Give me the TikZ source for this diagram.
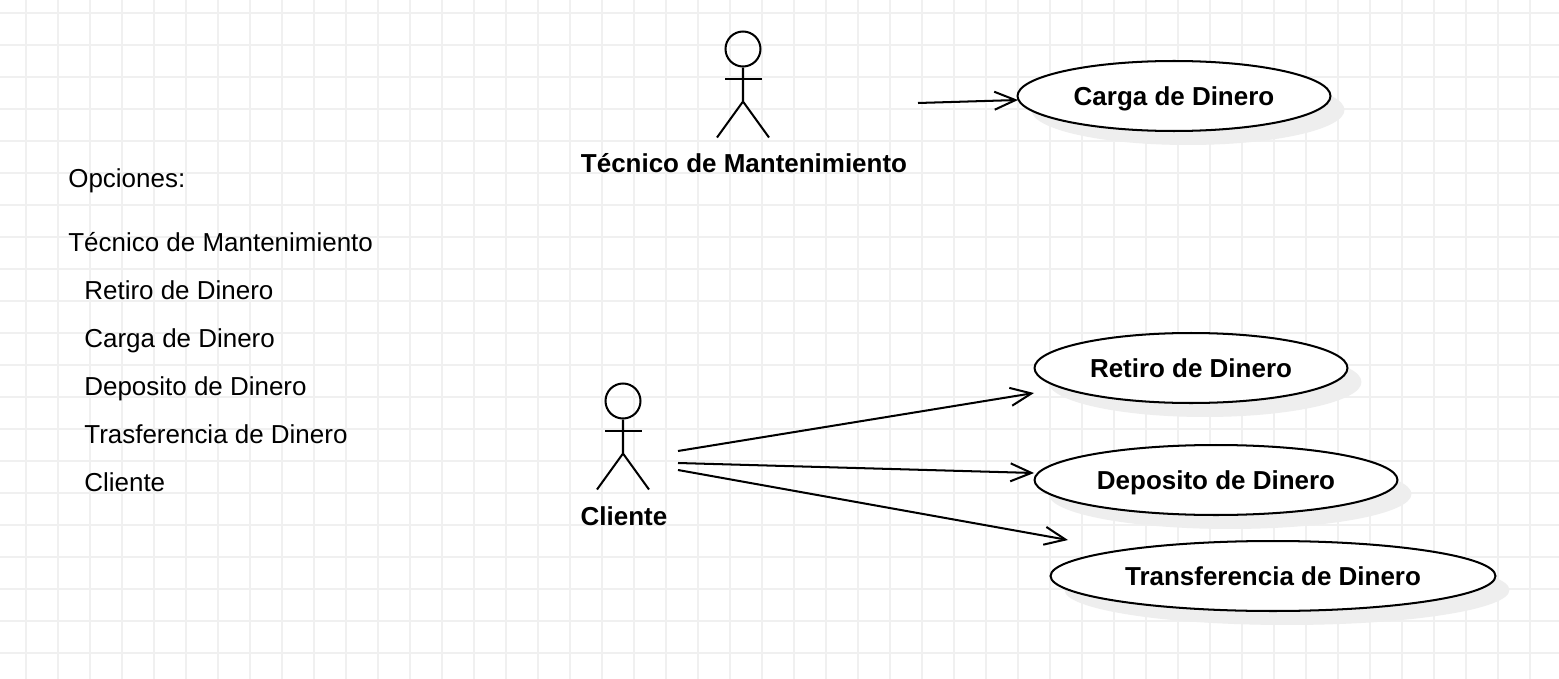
\documentclass[tikz,border=0pt]{standalone}
\usepackage{fontspec}
\setmainfont{Liberation Sans}
\usetikzlibrary{arrows.meta,shapes.geometric,shadows}
\definecolor{gridgray}{RGB}{240,240,240}
\definecolor{shadowgray}{RGB}{238,238,238}

\begin{document}
\begin{tikzpicture}[x=0.02cm, y=-0.02cm,
  gridline/.style={gridgray, line width=1.1pt},
  usecase/.style={ellipse, draw, fill=white, line width=1.15pt, inner sep=0pt, minimum height=1.4cm, text height=0.45cm, text depth=0.08cm, font=\fontsize{14.78}{17}\selectfont\bfseries, drop shadow={shadow xshift=0.28cm, shadow yshift=-0.28cm, fill=shadowgray, opacity=1}},
  actorhead/.style={circle, draw, line width=1.15pt, inner sep=0pt, minimum size=0.7cm},
  actorline/.style={line width=1.15pt},
  actorname/.style={anchor=base, inner sep=0pt, font=\fontsize{14.78}{17}\selectfont\bfseries},
  listline/.style={anchor=base west, inner sep=0pt, font=\fontsize{14.78}{17}\selectfont},
  link/.style={-{Straight Barb[length=0.42cm, width=0.36cm]}, line width=1.15pt}]
\useasboundingbox (0,0) rectangle (1559,679);
\fill[white] (0,0) rectangle (1559,679);
% Grid
\foreach \gx in {26,58,...,1558} \draw[gridline] (\gx,0) -- (\gx,679);
\foreach \gy in {13,45,...,678} \draw[gridline] (0,\gy) -- (1559,\gy);
% List of options
\node[listline] (opciones) at (68,188) {Opciones:};
\node[listline] (tecnicoItem) at (68,251) {Técnico de Mantenimiento};
\node[listline] (retiroItem) at (84,299) {Retiro de Dinero};
\node[listline] (cargaItem) at (84,347) {Carga de Dinero};
\node[listline] (depositoItem) at (84,395) {Deposito de Dinero};
\node[listline] (trasfItem) at (84,443) {Trasferencia de Dinero};
\node[listline] (clienteItem) at (84,491) {Cliente};
% Actors
\node[actorhead] (tecnicoHead) at (743,49) {};
\draw[actorline] (tecnicoHead.south) -- ++(0,34) -- ++(-26,36) ++(26,-36) -- ++(26,36);
\draw[actorline] (725,79) -- (762,79);
\node[actorname] (tecnico) at (744,173) {Técnico de Mantenimiento};
\node[actorhead] (clienteHead) at (623,401) {};
\draw[actorline] (clienteHead.south) -- ++(0,34) -- ++(-26,36) ++(26,-36) -- ++(26,36);
\draw[actorline] (605,431) -- (642,431);
\node[actorname] (cliente) at (624,525) {Cliente};
% Use cases
\node[usecase, minimum width=6.26cm] (carga) at (1174,96) {Carga de Dinero};
\node[usecase, minimum width=6.26cm] (retiro) at (1191,368) {Retiro de Dinero};
\node[usecase, minimum width=7.26cm] (deposito) at (1216,480) {Deposito de Dinero};
\node[usecase, minimum width=8.9cm] (transferencia) at (1273,576) {Transferencia de Dinero};
% Arrows
\coordinate (tecnicoOut) at (918,103);
\coordinate (cargaIn) at (1018,100);
\coordinate (clienteOutA) at (678,451);
\coordinate (clienteOutB) at (678,463);
\coordinate (clienteOutC) at (678,470);
\coordinate (retiroIn) at (1034,393);
\coordinate (depositoIn) at (1034,473);
\coordinate (transferenciaIn) at (1068,540);
\draw[link] (tecnicoOut) -- (cargaIn);
\draw[link] (clienteOutA) -- (retiroIn);
\draw[link] (clienteOutB) -- (depositoIn);
\draw[link] (clienteOutC) -- (transferenciaIn);
\end{tikzpicture}
\end{document}
